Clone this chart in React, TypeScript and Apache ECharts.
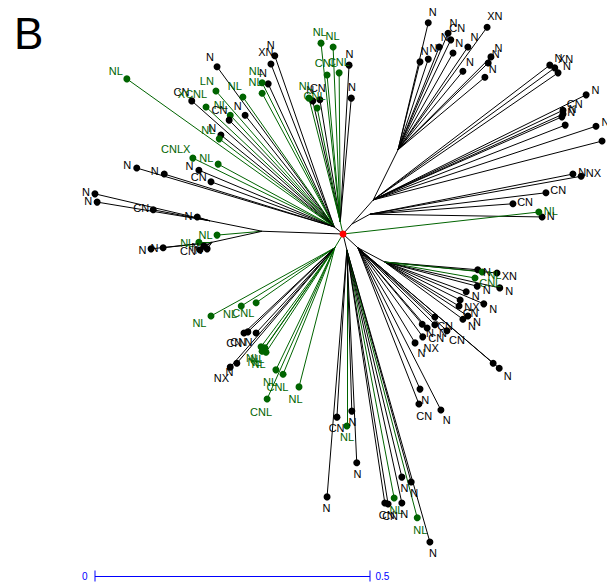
import React, { useEffect, useRef } from "react";
import * as echarts from "echarts";

// Tree coordinates in branch-length units (scale bar: 0.5)
const nodeName = ["C", "UL", "FL", "FL2", "LC", "UC", "R0", "R1", "R2", "R3", "RL", "RL1", "LD", "LL"];
const nodeX = [0, -0.016, -0.147, -0.242, -0.238, -0.005, 0.016, 0.055, 0.1, 0.049, 0.027, 0.076, 0.007, -0.015];
const nodeY = [0, 0.013, 0.005, 0.024, -0.015, 0.022, 0.018, 0.062, 0.153, 0.036, -0.025, -0.051, -0.029, -0.025];
const nodeParent = ["", "C", "C", "FL", "FL", "C", "C", "R0", "R1", "R0", "C", "RL", "C", "C"];

type Leaf = [number, number, string, string];

const leavesUL: Leaf[] = [
  [-0.393, 0.282, "NL", "g"], [-0.229, 0.304, "N", "b"], [-0.124, 0.324, "N", "b"], [-0.131, 0.309, "XN", "b"],
  [-0.136, 0.273, "N", "b"], [-0.147, 0.275, "NL", "g"], [-0.147, 0.256, "NL", "g"], [-0.182, 0.249, "NL", "g"],
  [-0.231, 0.26, "LN", "g"], [-0.275, 0.242, "CN", "b"], [-0.249, 0.231, "XCNL", "g"], [-0.205, 0.216, "NL", "g"],
  [-0.207, 0.207, "CN", "b"], [-0.178, 0.216, "N", "b"], [-0.222, 0.18, "N", "b"], [-0.225, 0.173, "NL", "g"],
  [-0.273, 0.138, "CNLX", "g"], [-0.227, 0.127, "NL", "g"], [-0.262, 0.116, "N", "b"], [-0.24, 0.095, "CN", "b"],
  [-0.375, 0.12, "N", "b"], [-0.325, 0.109, "N", "b"],
];
const leavesFL2: Leaf[] = [
  [-0.451, 0.073, "N", "b"], [-0.447, 0.058, "N", "b"], [-0.345, 0.044, "CN", "b"], [-0.265, 0.031, "N", "b"],
];
const leavesFL: Leaf[] = [[-0.229, -0.002, "NL", "g"]];
const leavesLC: Leaf[] = [
  [-0.349, -0.027, "N", "b"], [-0.327, -0.025, "N", "b"], [-0.262, -0.015, "NL", "g"], [-0.253, -0.022, "N", "b"],
  [-0.26, -0.029, "CN", "b"], [-0.247, -0.027, "N", "b"],
];
const leavesUC: Leaf[] = [
  [-0.04, 0.347, "NL", "g"], [-0.018, 0.34, "NL", "g"], [-0.029, 0.289, "CNL", "g"], [-0.007, 0.293, "CNL", "g"],
  [0.011, 0.307, "N", "b"], [0.015, 0.247, "N", "b"], [-0.055, 0.242, "N", "b"], [-0.042, 0.244, "CN", "b"],
  [-0.062, 0.247, "NL", "g"], [-0.047, 0.229, "CNL", "g"],
];
const leavesR2: Leaf[] = [
  [0.155, 0.384, "N", "b"], [0.191, 0.365, "N", "b"], [0.262, 0.376, "XN", "b"], [0.196, 0.353, "CN", "b"],
  [0.227, 0.34, "N", "b"], [0.175, 0.34, "N", "b"], [0.155, 0.318, "N", "b"], [0.14, 0.313, "N", "b"],
  [0.269, 0.322, "N", "b"], [0.264, 0.311, "N", "b"], [0.258, 0.285, "N", "b"], [0.2, 0.329, "N", "b"],
  [0.218, 0.296, "N", "b"],
];
const leavesR1: Leaf[] = [
  [0.376, 0.307, "N", "b"], [0.385, 0.302, "XN", "b"], [0.391, 0.293, "N", "b"], [0.442, 0.253, "N", "b"],
  [0.4, 0.225, "CN", "b"], [0.4, 0.218, "N", "b"], [0.398, 0.213, "N", "b"], [0.404, 0.198, "", "b"],
  [0.46, 0.196, "N", "b"], [0.471, 0.169, "", "b"],
];
const leavesR3: Leaf[] = [
  [0.418, 0.109, "N", "b"], [0.433, 0.105, "NX", "b"], [0.369, 0.075, "CN", "b"], [0.309, 0.055, "CN", "b"],
  [0.362, 0.031, "N", "b"],
];
const leavesC: Leaf[] = [[0.356, 0.04, "NL", "g"]];
const leavesRL1: Leaf[] = [
  [0.245, -0.065, "N", "b"], [0.28, -0.071, "XN", "b"], [0.24, -0.08, "CNL", "g"], [0.244, -0.095, "N", "b"],
  [0.285, -0.098, "N", "b"], [0.224, -0.105, "N", "b"], [0.213, -0.12, "NX", "b"], [0.211, -0.131, "CN", "b"],
  [0.256, -0.127, "N", "b"], [0.218, -0.155, "N", "b"], [0.227, -0.149, "N", "b"], [0.253, -0.069, "NL", "g"],
];
const leavesRL: Leaf[] = [
  [0.167, -0.151, "CN", "b"], [0.144, -0.164, "N", "b"], [0.153, -0.171, "CN", "b"], [0.145, -0.187, "NX", "b"],
  [0.167, -0.165, "N", "b"], [0.189, -0.176, "CN", "b"], [0.131, -0.198, "N", "b"], [0.273, -0.235, "", "b"],
  [0.284, -0.244, "N", "b"], [0.14, -0.282, "N", "b"], [0.138, -0.309, "CN", "b"], [0.178, -0.32, "N", "b"],
];
const leavesLD: Leaf[] = [
  [-0.011, -0.333, "CN", "b"], [0.007, -0.349, "NL", "g"], [0.016, -0.322, "N", "b"], [0.025, -0.416, "N", "b"],
  [-0.029, -0.478, "N", "b"], [0.107, -0.442, "N", "b"], [0.124, -0.451, "N", "b"], [0.093, -0.48, "NL", "g"],
  [0.107, -0.489, "N", "b"], [0.076, -0.489, "CN", "b"], [0.082, -0.491, "CN", "b"], [0.135, -0.516, "NL", "g"],
  [0.158, -0.56, "N", "b"],
];
const leavesLL: Leaf[] = [
  [-0.24, -0.149, "NL", "g"], [-0.185, -0.131, "NL", "g"], [-0.158, -0.125, "CNL", "g"], [-0.18, -0.18, "CN", "b"],
  [-0.173, -0.178, "CN", "b"], [-0.158, -0.18, "N", "b"], [-0.149, -0.205, "NL", "g"], [-0.142, -0.207, "NL", "g"],
  [-0.147, -0.213, "NL", "g"], [-0.14, -0.215, "NL", "g"], [-0.205, -0.242, "NX", "b"], [-0.193, -0.235, "N", "b"],
  [-0.122, -0.247, "NL", "g"], [-0.109, -0.255, "CNL", "g"], [-0.08, -0.278, "NL", "g"], [-0.138, -0.3, "CNL", "g"],
];

const leafGroups: [string, Leaf[]][] = [
  ["UL", leavesUL], ["FL2", leavesFL2], ["FL", leavesFL], ["LC", leavesLC], ["UC", leavesUC],
  ["R2", leavesR2], ["R1", leavesR1], ["R3", leavesR3], ["C", leavesC], ["RL1", leavesRL1],
  ["RL", leavesRL], ["LD", leavesLD], ["LL", leavesLL],
];

const scaleLength = 0.5;
const scaleLabels = ["0", "0.5"];
const panelLabel = "B";

const GREEN = "#006400";
const BLACK = "#000000";
const BLUE = "#0000ff";
const FONT = "Liberation Sans, Arial, sans-serif";
const PX_PER_UNIT = 550;
const CX = 343;
const CY = 234;
const W = 607;
const H = 584;

export default function App() {
  const ref = useRef<HTMLDivElement>(null);
  useEffect(() => {
    const chart = echarts.init(ref.current!, null, { renderer: "svg" });
    const idx: Record<string, number> = {};
    nodeName.forEach((n, i) => (idx[n] = i));
    const green = nodeName.map(() => 0);
    const total = nodeName.map(() => 0);

    const edges: any[] = [];
    const points: any[] = [];
    leafGroups.forEach(([parent, leaves]) => {
      leaves.forEach(([x, y, label, g]) => {
        const col = g === "g" ? GREEN : BLACK;
        let p = parent;
        while (p) {
          const i = idx[p];
          total[i]++;
          if (g === "g") green[i]++;
          p = nodeParent[i];
        }
        const pi = idx[parent];
        edges.push({ coords: [[nodeX[pi], nodeY[pi]], [x, y]], lineStyle: { color: col } });
        const len = Math.hypot(x, y) || 1;
        const dx = x / len;
        const dy = -y / len;
        const w = label.length * 6.4;
        const dist = 5 + (w / 2) * Math.abs(dx) + 6 * Math.abs(dy);
        points.push({
          value: [x, y],
          itemStyle: { color: col, opacity: 1 },
          label: { show: true, formatter: label, color: col, offset: [dx * dist, dy * dist] },
        });
      });
    });
    nodeName.forEach((n, i) => {
      const p = nodeParent[i];
      if (!p) return;
      const pi = idx[p];
      const col = green[i] / total[i] > 0.5 ? GREEN : BLACK;
      edges.push({ coords: [[nodeX[pi], nodeY[pi]], [nodeX[i], nodeY[i]]], lineStyle: { color: col } });
    });

    const sbX0 = (95 - CX) / PX_PER_UNIT;
    const sbY = (CY - 576) / PX_PER_UNIT;

    const option: any = {
      animation: false,
      backgroundColor: "#fff",
      title: {
        text: panelLabel,
        left: 9,
        top: 6,
        textStyle: { fontSize: 44, fontWeight: "normal", color: "#000", fontFamily: FONT },
      },
      grid: { left: 0, top: 0, right: 0, bottom: 0 },
      xAxis: { type: "value", min: -CX / PX_PER_UNIT, max: (W - CX) / PX_PER_UNIT, show: false },
      yAxis: { type: "value", min: (CY - H) / PX_PER_UNIT, max: CY / PX_PER_UNIT, show: false },
      series: [
        {
          type: "lines",
          coordinateSystem: "cartesian2d",
          data: edges,
          lineStyle: { width: 1, opacity: 1 },
          z: 1,
          silent: true,
        },
        {
          type: "scatter",
          data: points,
          symbolSize: 7,
          itemStyle: { opacity: 1 },
          label: {
            position: "inside",
            align: "center",
            verticalAlign: "middle",
            fontSize: 11,
            fontFamily: FONT,
          },
          z: 3,
          silent: true,
        },
        {
          type: "scatter",
          data: [[0, 0]],
          symbolSize: 7,
          itemStyle: { color: "#ff0000", opacity: 1 },
          z: 4,
          silent: true,
        },
        {
          type: "lines",
          coordinateSystem: "cartesian2d",
          data: [{ coords: [[sbX0, sbY], [sbX0 + scaleLength, sbY]] }],
          lineStyle: { width: 1, color: BLUE, opacity: 1 },
          z: 2,
          silent: true,
        },
        {
          type: "scatter",
          symbol: "rect",
          symbolSize: [1, 11],
          itemStyle: { color: BLUE, opacity: 1 },
          data: [
            { value: [sbX0, sbY], label: { show: true, formatter: scaleLabels[0], position: "left", distance: 7 } },
            { value: [sbX0 + scaleLength, sbY], label: { show: true, formatter: scaleLabels[1], position: "right", distance: 5 } },
          ],
          label: { color: BLUE, fontSize: 10, fontFamily: FONT },
          z: 2,
          silent: true,
        },
      ],
    };
    chart.setOption(option);
    return () => chart.dispose();
  }, []);
  return (
    <div
      ref={ref}
      style={{ position: "fixed", left: 0, top: 0, width: W, height: H, background: "#fff" }}
    />
  );
}
